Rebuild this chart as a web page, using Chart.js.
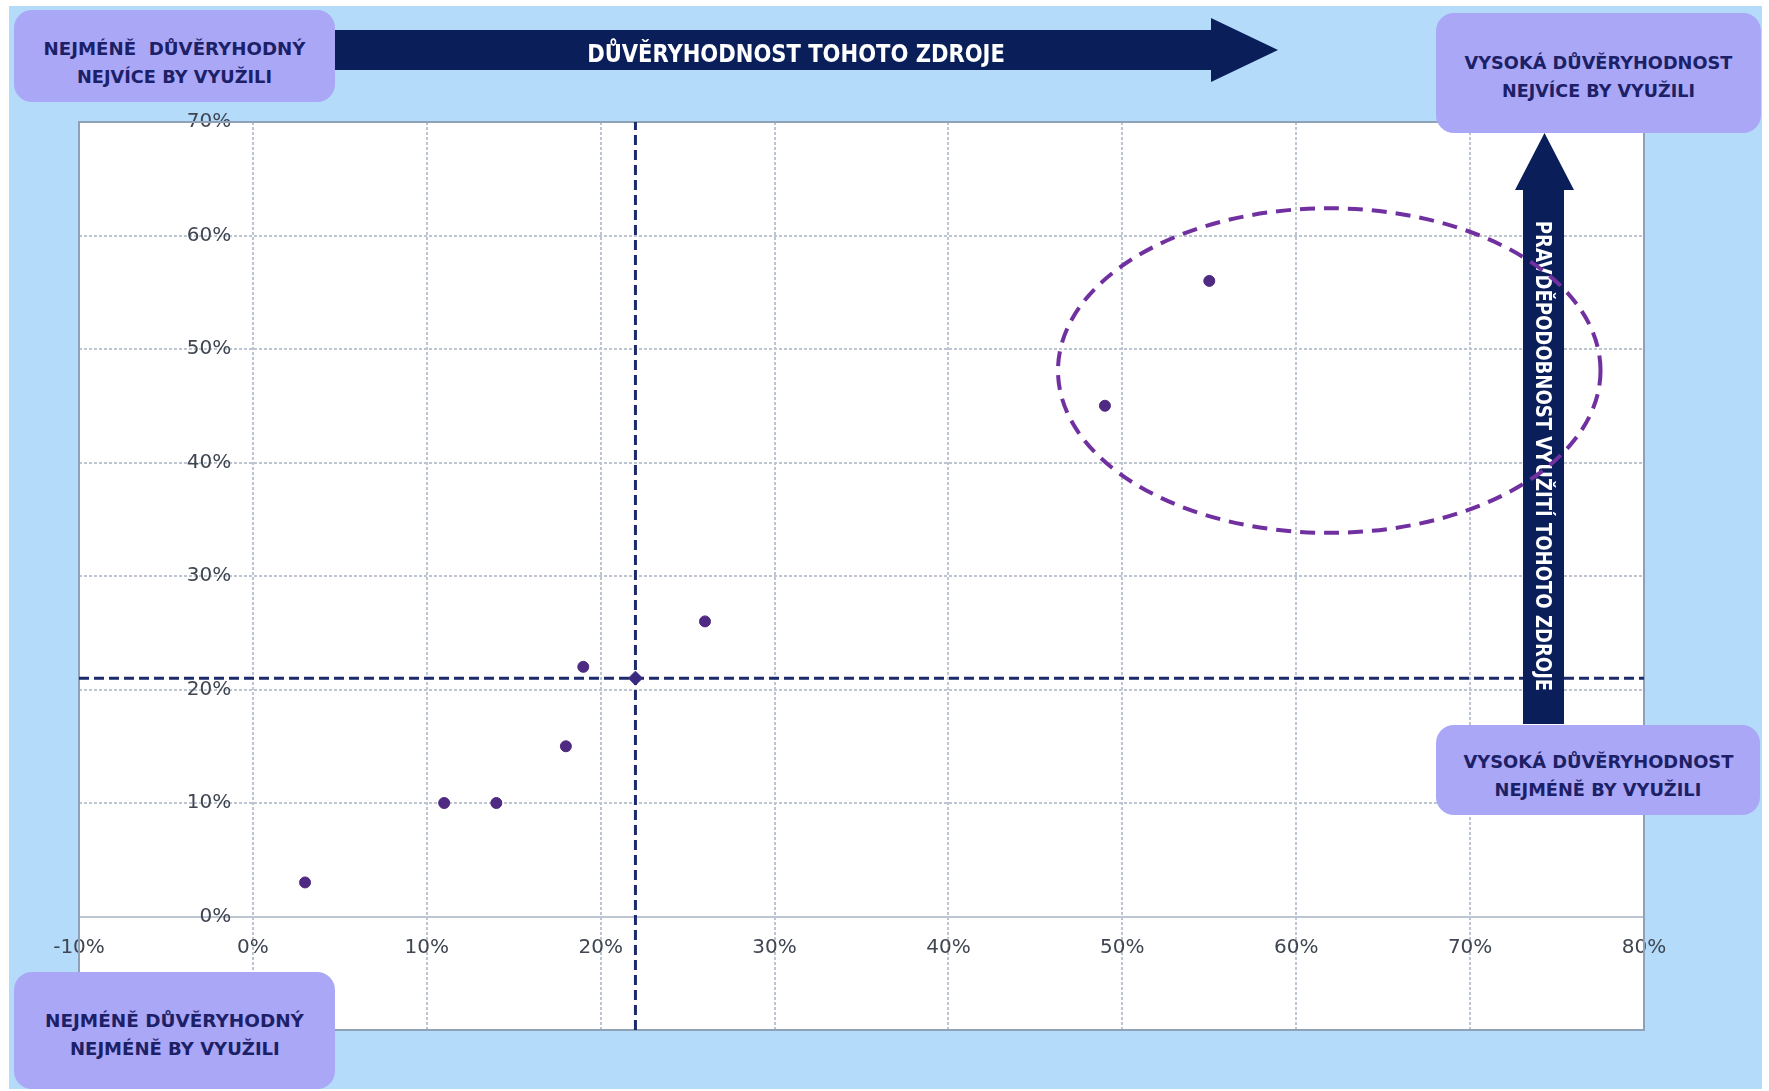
<!DOCTYPE html>
<html>
<head>
<meta charset="utf-8">
<script src="https://cdn.jsdelivr.net/npm/chart.js@4.4.1/dist/chart.umd.min.js"></script>
<style>
  html, body { margin: 0; padding: 0; background: #fff; }
  body { width: 1769px; height: 1091px; position: relative; overflow: hidden; font-family: "DejaVu Sans", sans-serif; }
  #bg { position: absolute; left: 9px; top: 6px; width: 1753px; height: 1083px; background: #b4dbfa; }
  #chartCanvas { position: absolute; left: 0; top: 0; z-index: 1; }
  #overlay { position: absolute; left: 0; top: 0; z-index: 6; pointer-events: none; }
  .arrow { position: absolute; background: #0a1e5a; z-index: 3; }
  .atext { position: absolute; color: #fff; font-weight: bold; white-space: nowrap; z-index: 4;
           font-family: "Liberation Sans Narrow", "DejaVu Sans Condensed", Roboto, sans-serif; }
  .box { position: absolute; background: #aaa7f7; border-radius: 18px; z-index: 5; color: #1c2066;
         font-weight: bold; font-size: 17px; line-height: 28px; text-align: center; box-sizing: border-box; }
  .box span { display: block; white-space: pre; }
  .box span b { display: inline-block; font-weight: bold; }
</style>
</head>
<body>
<div id="bg"></div>
<canvas id="chartCanvas" width="1769" height="1091"></canvas>
<canvas id="overlay" width="1769" height="1091"></canvas>

<div class="arrow" style="left:318px;top:18px;width:960px;height:64px;clip-path:polygon(0 12px,893px 12px,893px 0,960px 32px,893px 64px,893px 52px,0 52px);"></div>
<div class="atext fit" data-w="418" data-rot="0" style="left:796px;top:53px;font-size:25px;">DŮVĚRYHODNOST TOHOTO ZDROJE</div>

<div class="arrow" style="left:1515px;top:133px;width:59px;height:591px;clip-path:polygon(29.5px 0,59px 57px,49px 57px,49px 591px,8px 591px,8px 57px,0 57px);"></div>
<div class="atext fit" data-w="470" data-rot="90" style="left:1543px;top:456px;font-size:22px;">PRAVDĚPODOBNOST VYUŽITÍ TOHOTO ZDROJE</div>

<div class="box" style="left:14px;top:10px;width:321px;height:92px;padding-top:25px;">
  <span><b class="fitb" data-w="262">NEJMÉNĚ  DŮVĚRYHODNÝ</b></span>
  <span><b class="fitb" data-w="195">NEJVÍCE BY VYUŽILI</b></span>
</div>
<div class="box" style="left:1436px;top:13px;width:325px;height:120px;padding-top:36px;">
  <span><b class="fitb" data-w="268">VYSOKÁ DŮVĚRYHODNOST</b></span>
  <span><b class="fitb" data-w="193">NEJVÍCE BY VYUŽILI</b></span>
</div>
<div class="box" style="left:1436px;top:725px;width:324px;height:90px;padding-top:23px;">
  <span><b class="fitb" data-w="270">VYSOKÁ DŮVĚRYHODNOST</b></span>
  <span><b class="fitb" data-w="207">NEJMÉNĚ BY VYUŽILI</b></span>
</div>
<div class="box" style="left:14px;top:972px;width:321px;height:117px;padding-top:35px;">
  <span><b class="fitb" data-w="259">NEJMÉNĚ DŮVĚRYHODNÝ</b></span>
  <span><b class="fitb" data-w="210">NEJMÉNĚ BY VYUŽILI</b></span>
</div>

<script>
// data (percent)
const xValues = [3, 11, 14, 18, 19, 26, 49, 55];
const yValues = [3, 10, 10, 15, 22, 26, 45, 56];

// average point and cross lines
const meanX = 22;
const meanY = 21;

// axes
const xTickValues = [-10, 0, 10, 20, 30, 40, 50, 60, 70, 80];
const yTickValues = [-10, 0, 10, 20, 30, 40, 50, 60, 70];

// ellipse round the top group: centre x, centre y, radius x, radius y (percent)
const ellipseCenter = [61.9, 48.1];
const ellipseRadius = [15.6, 14.3];

const GRID = "#bcc5d0";
const LABEL = "#3f4652";

const plotBg = {
  id: "plotBg",
  beforeDraw(chart) {
    const { ctx, chartArea: a } = chart;
    ctx.save();
    ctx.fillStyle = "#fff";
    ctx.fillRect(a.left, a.top, a.right - a.left, a.bottom - a.top);
    ctx.restore();
  },
  beforeDatasetsDraw(chart) {
    const { ctx, chartArea: a } = chart;
    ctx.save();
    ctx.strokeStyle = "#8fa1b7";
    ctx.lineWidth = 2;
    ctx.strokeRect(a.left, a.top, a.right - a.left, a.bottom - a.top);
    ctx.restore();
  },
};

const ellipsePlugin = {
  id: "ellipse",
  afterDraw(chart) {
    const ctx = document.getElementById("overlay").getContext("2d");
    const x = chart.scales.x, y = chart.scales.y;
    const cx = x.getPixelForValue(ellipseCenter[0]);
    const cy = y.getPixelForValue(ellipseCenter[1]);
    const rx = Math.abs(x.getPixelForValue(ellipseCenter[0] + ellipseRadius[0]) - cx);
    const ry = Math.abs(y.getPixelForValue(ellipseCenter[1] + ellipseRadius[1]) - cy);
    ctx.clearRect(0, 0, 1769, 1091);
    ctx.save();
    ctx.strokeStyle = "#7030a0";
    ctx.lineWidth = 4;
    ctx.setLineDash([15, 9]);
    ctx.beginPath();
    ctx.ellipse(cx, cy, rx, ry, 0, 0, Math.PI * 2);
    ctx.stroke();
    ctx.restore();
  },
};

const pct = (v) => v + "%";

new Chart(document.getElementById("chartCanvas").getContext("2d"), {
  type: "scatter",
  data: {
    datasets: [
      {
        label: "Zdroje",
        data: xValues.map((x, i) => ({ x, y: yValues[i] })),
        backgroundColor: "#4f2a82",
        borderColor: "#4f2a82",
        pointRadius: 5.5,
        order: 1,
      },
      {
        label: "Průměr",
        data: [{ x: meanX, y: meanY }],
        pointStyle: "rectRot",
        pointRadius: 7,
        backgroundColor: "#3a2a7e",
        borderColor: "#3a2a7e",
        order: 0,
      },
      {
        type: "line",
        data: [{ x: meanX, y: yTickValues[0] }, { x: meanX, y: yTickValues[yTickValues.length - 1] }],
        borderColor: "#1c2b6b",
        borderWidth: 3,
        borderDash: [10, 5],
        pointRadius: 0,
        order: 2,
      },
      {
        type: "line",
        data: [{ x: xTickValues[0], y: meanY }, { x: xTickValues[xTickValues.length - 1], y: meanY }],
        borderColor: "#1c2b6b",
        borderWidth: 3,
        borderDash: [10, 5],
        pointRadius: 0,
        order: 2,
      },
    ],
  },
  options: {
    responsive: false,
    animation: false,
    layout: { padding: { left: 79, top: 122, right: 125, bottom: 61 } },
    plugins: { legend: { display: false }, tooltip: { enabled: false } },
    scales: {
      x: {
        type: "linear",
        min: xTickValues[0],
        max: xTickValues[xTickValues.length - 1],
        position: { y: 0 },
        afterBuildTicks: (s) => { s.ticks = xTickValues.map((v) => ({ value: v })); },
        ticks: { callback: pct, color: LABEL, font: { family: "DejaVu Sans", size: 20 }, padding: 19, maxRotation: 0, autoSkip: false },
        grid: { color: GRID, lineWidth: 2, drawTicks: false },
        border: { display: true, color: GRID, width: 2, dash: [3, 2] },
      },
      y: {
        type: "linear",
        min: yTickValues[0],
        max: yTickValues[yTickValues.length - 1],
        // labels sit a little left of the 0% line, the grid line itself marks the axis
        position: { x: -1.25 },
        afterBuildTicks: (s) => { s.ticks = yTickValues.map((v) => ({ value: v })); },
        ticks: { callback: pct, color: LABEL, font: { family: "DejaVu Sans", size: 20 }, padding: 21, autoSkip: false },
        grid: { color: GRID, lineWidth: 2, drawTicks: false },
        border: { display: false, color: GRID, width: 2, dash: [3, 2] },
      },
    },
  },
  plugins: [plotBg, ellipsePlugin],
});

// squeeze the texts to the widths seen in the picture
function fitTexts() {
  document.querySelectorAll(".fit").forEach((el) => {
    const s = Number(el.dataset.w) / el.offsetWidth;
    el.style.transform = `translate(-50%,-50%) rotate(${el.dataset.rot}deg) scaleX(${s})`;
  });
  document.querySelectorAll(".fitb").forEach((el) => {
    const s = Number(el.dataset.w) / el.offsetWidth;
    el.style.transform = `scaleX(${s})`;
  });
}
document.fonts.ready.then(fitTexts);
</script>
</body>
</html>
